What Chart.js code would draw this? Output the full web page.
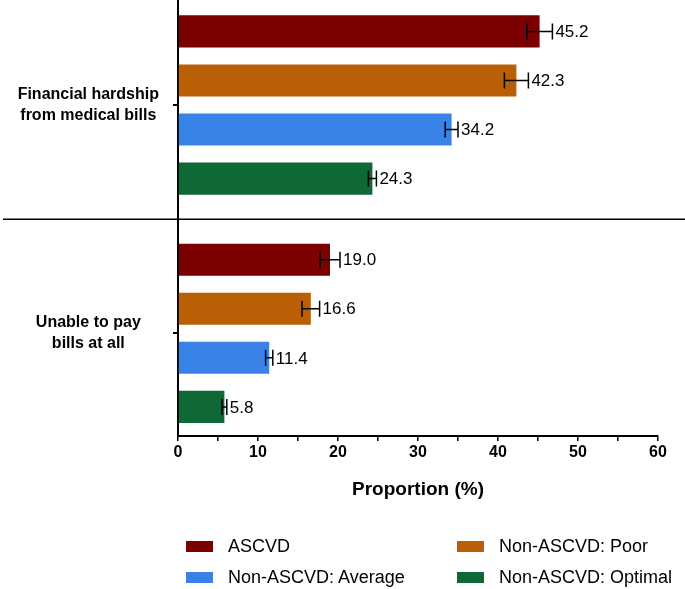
<!DOCTYPE html>
<html>
<head>
<meta charset="utf-8">
<script src="https://cdn.jsdelivr.net/npm/chart.js@4.4.1/dist/chart.umd.min.js"></script>
<style>
  body { margin: 0; background: #fff; }
  #wrap { position: relative; width: 685px; height: 589px; }
  #chart { position: absolute; left: 0; top: 0; }
  .legend-item { position: absolute; display: flex; align-items: center; height: 22px;
    font: 18px "Liberation Sans", Arial, sans-serif; color: #000; white-space: nowrap; }
  .swatch { width: 27px; height: 11px; margin-right: 15px; }
</style>
</head>
<body>
<div id="wrap">
  <canvas id="chart" width="685" height="589"></canvas>
  <div id="legend"></div>
</div>
<script>
// Categories (shown as two-line labels on the left)
const categories = [["Financial hardship", "from medical bills"], ["Unable to pay", "bills at all"]];
const seriesNames = ["ASCVD", "Non-ASCVD: Poor", "Non-ASCVD: Average", "Non-ASCVD: Optimal"];
const seriesColors = ["#7B0000", "#BA5F06", "#3A83E6", "#0F6937"];

// Proportions (%)
const ascvd = [45.2, 19.0];
const poor = [42.3, 16.6];
const average = [34.2, 11.4];
const optimal = [24.3, 5.8];

// Half-widths of the error bars
const ascvdErr = [1.6, 1.25];
const poorErr = [1.5, 1.1];
const averageErr = [0.8, 0.45];
const optimalErr = [0.5, 0.3];

const xTicks = [0, 10, 20, 30, 40, 50, 60];

const seriesValues = [ascvd, poor, average, optimal];
const seriesErrors = [ascvdErr, poorErr, averageErr, optimalErr];

const FONT = '"Liberation Sans", Arial, sans-serif';

// Error bars + value labels drawn after the bars
const errorBarPlugin = {
  id: "errorBars",
  afterDatasetsDraw(chart) {
    const ctx = chart.ctx;
    const xScale = chart.scales.x;
    ctx.save();
    ctx.strokeStyle = "#000";
    ctx.lineWidth = 1.5;
    ctx.fillStyle = "#000";
    ctx.font = "17px " + FONT;
    ctx.textBaseline = "middle";
    chart.data.datasets.forEach((ds, di) => {
      const meta = chart.getDatasetMeta(di);
      meta.data.forEach((bar, i) => {
        const v = seriesValues[di][i];
        const e = seriesErrors[di][i];
        const lo = xScale.getPixelForValue(v - e);
        const hi = xScale.getPixelForValue(v + e);
        const y = bar.y;
        ctx.beginPath();
        ctx.moveTo(lo, y);
        ctx.lineTo(hi, y);
        ctx.moveTo(lo, y - 8);
        ctx.lineTo(lo, y + 8);
        ctx.moveTo(hi, y - 8);
        ctx.lineTo(hi, y + 8);
        ctx.stroke();
        ctx.fillText(v.toFixed(1), hi + 3, y + 1);
      });
    });
    ctx.restore();
  },
  afterDraw(chart) {
    // horizontal divider between the two groups
    const ctx = chart.ctx;
    const y = chart.scales.y.getPixelForValue(1.5);
    ctx.save();
    ctx.strokeStyle = "#000";
    ctx.lineWidth = 1.5;
    ctx.beginPath();
    ctx.moveTo(3, y);
    ctx.lineTo(chart.width, y);
    ctx.stroke();
    ctx.restore();
  }
};

const config = {
  type: "bar",
  data: {
    datasets: seriesNames.map((name, di) => ({
      label: name,
      data: seriesValues[di].map((v, i) => ({ x: v, y: i + 1 })),
      backgroundColor: seriesColors[di],
      borderWidth: 0,
      categoryPercentage: 0.86,
      barPercentage: 0.653
    }))
  },
  options: {
    indexAxis: "y",
    responsive: false,
    animation: false,
    layout: { padding: { top: 0, left: 0, right: 27, bottom: 84 } },
    plugins: {
      legend: { display: false },
      tooltip: { enabled: false },
      title: { display: false }
    },
    scales: {
      x: {
        type: "linear",
        min: 0,
        max: 60,
        afterBuildTicks(scale) {
          const t = [];
          for (let v = 0; v <= 60; v += 5) t.push({ value: v });
          scale.ticks = t;
        },
        ticks: {
          autoSkip: false,
          maxRotation: 0,
          padding: 2,
          color: "#000",
          font: { family: FONT, size: 16, weight: "bold" },
          callback: (v) => (xTicks.includes(v) ? String(v) : "")
        },
        grid: { display: true, drawOnChartArea: false, tickLength: 5, color: "#000", lineWidth: 1.5 },
        border: { display: true, color: "#000", width: 2 },
        title: {
          display: true,
          text: "Proportion (%)",
          color: "#000",
          font: { family: FONT, size: 19, weight: "bold" },
          padding: { top: 14, bottom: 4 }
        }
      },
      y: {
        type: "linear",
        reverse: true,
        offset: false,
        min: 0.54,
        max: 2.45,
        afterBuildTicks(scale) {
          scale.ticks = categories.map((c, i) => ({ value: i + 1 }));
        },
        afterFit(scale) {
          scale.width = 178;
          // labels sit well inside the axis, no need for edge padding
          scale.paddingTop = 0;
          scale.paddingBottom = 0;
        },
        ticks: {
          crossAlign: "center",
          padding: 14,
          color: "#000",
          font: { family: FONT, size: 16, weight: "bold", lineHeight: 1.3 },
          callback: (v) => categories[v - 1] || ""
        },
        grid: { display: true, offset: false, drawOnChartArea: false, tickLength: 5, color: "#000", lineWidth: 2 },
        border: { display: true, color: "#000", width: 2 }
      }
    }
  },
  plugins: [errorBarPlugin]
};

new Chart(document.getElementById("chart"), config);

// Legend: two columns, two rows
const legendPos = [
  { left: 186, top: 535 },
  { left: 457, top: 535 },
  { left: 186, top: 566 },
  { left: 457, top: 566 }
];
const legend = document.getElementById("legend");
seriesNames.forEach((name, i) => {
  const item = document.createElement("div");
  item.className = "legend-item";
  item.style.left = legendPos[i].left + "px";
  item.style.top = legendPos[i].top + "px";
  const sw = document.createElement("span");
  sw.className = "swatch";
  sw.style.background = seriesColors[i];
  const label = document.createElement("span");
  label.textContent = name;
  item.appendChild(sw);
  item.appendChild(label);
  legend.appendChild(item);
});
</script>
</body>
</html>
